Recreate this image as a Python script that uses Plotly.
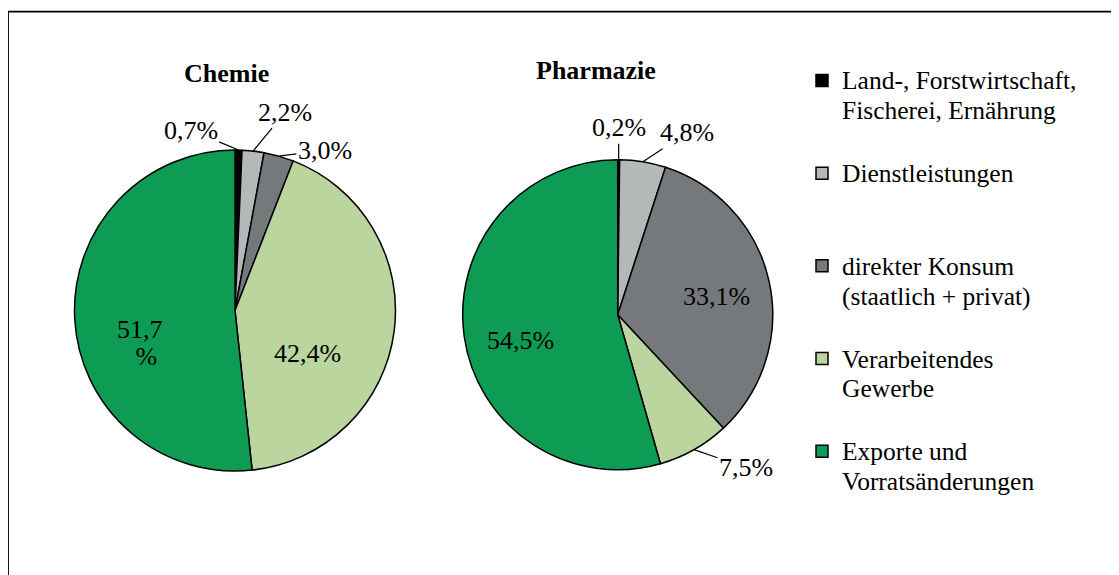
import math
import plotly.graph_objects as go

# Data
categories = [
    ["Land-, Forstwirtschaft,", "Fischerei, Ernährung"],
    ["Dienstleistungen"],
    ["direkter Konsum", "(staatlich + privat)"],
    ["Verarbeitendes", "Gewerbe"],
    ["Exporte und", "Vorratsänderungen"],
]
chemie = [0.7, 2.2, 3.0, 42.4, 51.7]
pharmazie = [0.2, 4.8, 33.1, 7.5, 54.5]
titles = ["Chemie", "Pharmazie"]

COLORS = ["#000000", "#B5B8B8", "#76797C", "#BBD59E", "#0E9C55"]
FONT = "Liberation Serif, Times New Roman, serif"
W, H = 1119, 575
OFF = 8  # page margin around the plot div

# pie geometry in screen pixels: center x, center y, radius
GEOM = [(235, 310.5, 160.5), (617.7, 314.7, 155)]


def px(x, y):
    return (x - OFF) / W, 1 - (y - OFF) / H


def fmt(v):
    return f"{v:.1f}".replace(".", ",") + "%"


def big(s, size=25.5):
    return f"<span style='font-size:{size}px'>{s}</span>"


def domain(g):
    cx, cy, r = g
    x0, y1 = px(cx - r, cy - r)
    x1, y0 = px(cx + r, cy + r)
    return dict(x=[x0, x1], y=[y0, y1])


def slice_point(values, i, g, frac=1.0):
    # point at mid angle of slice i (clockwise from 12 o'clock)
    cx, cy, r = g
    tot = sum(values)
    mid = (sum(values[:i]) + values[i] / 2) / tot * 2 * math.pi
    return px(cx + frac * r * math.sin(mid), cy - frac * r * math.cos(mid))


# legend labels: larger glyphs, padded to three lines for even spacing
leg_labels = []
for lines in categories:
    parts = [big(s) for s in lines]
    parts += ["&nbsp;"] * (3 - len(lines))
    leg_labels.append("<br>".join(parts))

fig = go.Figure()
for k, vals in enumerate([chemie, pharmazie]):
    fig.add_trace(go.Pie(
        labels=leg_labels, values=vals, sort=False,
        direction="clockwise", rotation=0,
        marker=dict(colors=COLORS, line=dict(color="#000000", width=1.5)),
        textinfo="none", hoverinfo="percent",
        domain=domain(GEOM[k]), showlegend=(k == 0),
    ))

LBL = dict(size=26, family=FONT, color="#000000")
annotations = []
# titles
for t, (tx, ty) in zip(titles, [(226, 73), (596, 71)]):
    x, y = px(tx, ty)
    annotations.append(dict(x=x, y=y, xref="paper", yref="paper", xanchor="center",
                            yanchor="middle", text=f"<b>{t}</b>", showarrow=False,
                            font=dict(size=26, family=FONT, color="#000000")))

# outside labels with leader lines: (series, index, ax, ay)
outside = [
    (0, 0, -48, -20), (0, 1, 32, -39), (0, 2, 46, -6),
    (1, 0, 0, -32), (1, 1, 44, -29), (1, 3, 52, 18),
]
data = [chemie, pharmazie]
for s, i, ax, ay in outside:
    x, y = slice_point(data[s], i, GEOM[s])
    annotations.append(dict(x=x, y=y, xref="paper", yref="paper", text=fmt(data[s][i]),
                            showarrow=True, arrowhead=0, arrowwidth=1.2, arrowcolor="#000000",
                            ax=ax, ay=ay, standoff=0, font=LBL))

# inside labels: (series, index, xshift, yshift, text, font size)
inside = [
    (0, 3, -15, -31, fmt(chemie[3]), 26),
    (0, 4, -7, -28, big(fmt(chemie[4])[:-1], 26) + "<br>" + big("&nbsp;&nbsp;%", 26), 20.5),
    (1, 2, 16, 0, fmt(pharmazie[2]), 26),
    (1, 4, -13, -14, fmt(pharmazie[4]), 26),
]
for s, i, xs, ys, txt, fs in inside:
    x, y = slice_point(data[s], i, GEOM[s], 0.55)
    annotations.append(dict(x=x, y=y, xref="paper", yref="paper", text=txt,
                            xanchor="center", yanchor="middle",
                            showarrow=False, xshift=xs, yshift=ys,
                            font=dict(size=fs, family=FONT, color="#000000")))

lx, ly = px(802, 59)
bx0, by1 = px(8, 11.7)
fig.update_layout(
    width=W, height=H,
    paper_bgcolor="#FFFFFF", plot_bgcolor="#FFFFFF",
    margin=dict(l=0, r=0, t=0, b=0),
    font=dict(family=FONT, color="#000000", size=24),
    annotations=annotations,
    legend=dict(x=lx, y=ly, xanchor="left", yanchor="top",
                valign="top", bgcolor="rgba(0,0,0,0)", borderwidth=0,
                font=dict(size=23, family=FONT, color="#000000")),
    shapes=[dict(type="rect", xref="paper", yref="paper",
                 x0=bx0, x1=1.05, y0=-0.05, y1=by1,
                 line=dict(color="#000000", width=1.8))],
)

fig.write_html("out.html")
